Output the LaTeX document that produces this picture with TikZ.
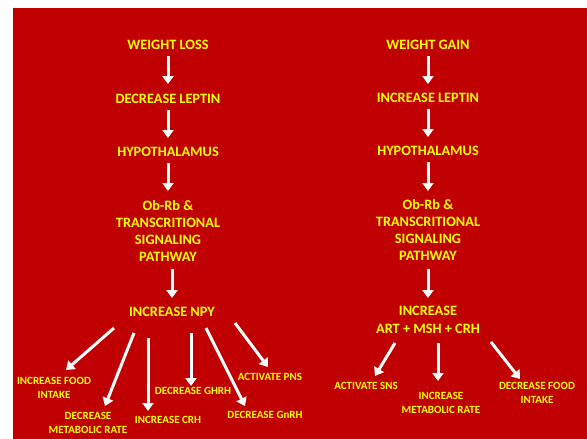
\documentclass[tikz,border=0pt]{standalone}
\usepackage{fontspec}
\setmainfont{Carlito}
\usetikzlibrary{arrows.meta,calc}
\definecolor{bgred}{HTML}{C00000}
\definecolor{txtyel}{HTML}{FFFF00}
\tikzset{
  big/.style={text=txtyel,font=\bfseries\fontsize{14.3}{17.3}\selectfont,align=center,inner sep=0pt},
  small/.style={text=txtyel,font=\bfseries\fontsize{11}{13.3}\selectfont,align=center,inner sep=0pt},
  arr/.style={draw=white,line width=3pt,-{Triangle[width=11pt,length=8pt]}}
}
\begin{document}
\begin{tikzpicture}[x=1pt,y=-1pt]
\useasboundingbox (0,0) rectangle (587,439);
\fill[bgred] (13,8) rectangle (587,439);
% left column
\node[big] (wl) at (168,45) {WEIGHT LOSS};
\node[big] (dl) at (168,99) {DECREASE LEPTIN};
\node[big] (h1) at (168,152) {HYPOTHALAMUS};
\node[big] (ob1) at (168,231) {Ob-Rb \&\\TRANSCRITIONAL\\SIGNALING\\PATHWAY};
\node[big] (npy) at (172,312) {INCREASE NPY};
% right column
\node[big] (wg) at (428,45) {WEIGHT GAIN};
\node[big] (il) at (428,98) {INCREASE LEPTIN};
\node[big] (h2) at (428,151) {HYPOTHALAMUS};
\node[big] (ob2) at (428,230) {Ob-Rb \&\\TRANSCRITIONAL\\SIGNALING\\PATHWAY};
\node[big] (art) at (428,320) {INCREASE\\ART + MSH + CRH};
% vertical arrows
\coordinate (l1s) at (168,56); \coordinate (l1e) at (168,84);
\coordinate (l2s) at (168,110); \coordinate (l2e) at (168,138);
\coordinate (l3s) at (168,163); \coordinate (l3e) at (168,191);
\coordinate (l4s) at (172,269); \coordinate (l4e) at (172,298);
\coordinate (r1s) at (428,56); \coordinate (r1e) at (428,84);
\coordinate (r2s) at (428,109); \coordinate (r2e) at (428,137);
\coordinate (r3s) at (428,162); \coordinate (r3e) at (428,191);
\coordinate (r4s) at (428,269); \coordinate (r4e) at (428,298);
\foreach \a in {l1,l2,l3,l4,r1,r2,r3,r4}{\draw[arr] (\a s) -- (\a e);}
% left outputs
\node[small] (o1) at (54,388) {INCREASE FOOD\\INTAKE};
\node[small] (o2) at (88,423) {DECREASE\\METABOLIC RATE};
\node[small] (o3) at (168,420) {INCREASE CRH};
\node[small] (o4) at (193,391) {DECREASE GHRH};
\node[small] (o5) at (265,415) {DECREASE GnRH};
\node[small] (o6) at (270,377) {ACTIVATE PNS};
\coordinate (a1s) at (114,328); \coordinate (a1e) at (66,370);
\coordinate (a2s) at (134,333); \coordinate (a2e) at (105,406);
\coordinate (a3s) at (148,338); \coordinate (a3e) at (148,411);
\coordinate (a4s) at (191,333); \coordinate (a4e) at (191,386);
\coordinate (a5s) at (206,328); \coordinate (a5e) at (245,406);
\coordinate (a6s) at (235,323); \coordinate (a6e) at (268,367);
\foreach \a in {a1,a2,a3,a4,a5,a6}{\draw[arr] (\a s) -- (\a e);}
% right outputs
\node[small] (p1) at (366,386) {ACTIVATE SNS};
\node[small] (p2) at (441,403) {INCREASE\\METABOLIC RATE};
\node[small] (p3) at (537,393) {DECREASE FOOD\\INTAKE};
\coordinate (b1s) at (395,343); \coordinate (b1e) at (375,376);
\coordinate (b2s) at (438,343); \coordinate (b2e) at (438,381);
\coordinate (b3s) at (491,342); \coordinate (b3e) at (520,379);
\foreach \a in {b1,b2,b3}{\draw[arr] (\a s) -- (\a e);}
\end{tikzpicture}
\end{document}
